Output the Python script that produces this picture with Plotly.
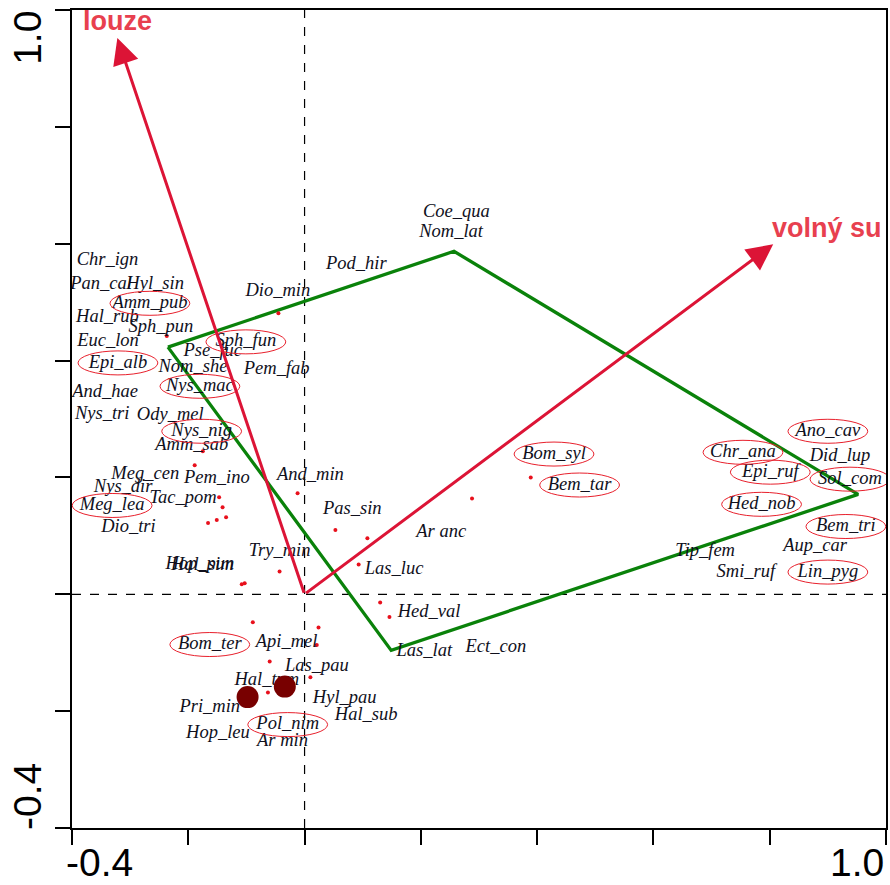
import plotly.graph_objects as go

# ---------------- data (ordination scores) ----------------
species = ["Chr_ign", "Pan_cal", "Hyl_sin", "Amm_pub", "Hal_rub", "Sph_pun", "Euc_lon",
           "Sph_fun", "Pse_fuc", "Epi_alb", "Nom_she", "Pem_fab", "Nys_mac", "And_hae",
           "Nys_tri", "Ody_mel", "Nys_nig", "Amm_sab", "Meg_cen", "Pem_ino", "And_min",
           "Nys_dir", "Tac_pom", "Meg_lea", "Dio_tri", "Try_min", "Hop_pun", "Hal_sim",
           "Bom_ter", "Api_mel", "Las_pau", "Hal_tum", "Pri_min", "Hyl_pau", "Hal_sub",
           "Pol_nim", "Hop_leu", "Ar min", "Pas_sin", "Ar anc", "Las_luc", "Hed_val",
           "Las_lat", "Ect_con", "Bom_syl", "Bem_tar", "Ano_cav", "Chr_ana", "Did_lup",
           "Epi_ruf", "Sol_com", "Hed_nob", "Bem_tri", "Tip_fem", "Aup_car", "Smi_ruf",
           "Lin_pyg", "Coe_qua", "Nom_lat", "Pod_hir", "Dio_min"]
species_x = [-0.339, -0.350, -0.257, -0.266, -0.339, -0.247, -0.338,
             -0.101, -0.158, -0.321, -0.192, -0.048, -0.180, -0.343,
             -0.348, -0.231, -0.177, -0.194, -0.274, -0.151, 0.010,
             -0.312, -0.209, -0.331, -0.303, -0.043, -0.180, -0.176,
             -0.163, -0.031, 0.021, -0.065, -0.163, 0.069, 0.106,
             -0.029, -0.149, -0.038, 0.082, 0.235, 0.154, 0.214,
             0.206, 0.329, 0.429, 0.473, 0.900, 0.754, 0.921,
             0.801, 0.938, 0.786, 0.931, 0.689, 0.878, 0.759,
             0.900, 0.261, 0.252, 0.089, -0.046]
species_y = [0.572, 0.531, 0.531, 0.498, 0.474, 0.457, 0.433,
             0.432, 0.416, 0.396, 0.389, 0.385, 0.356, 0.346,
             0.308, 0.307, 0.279, 0.255, 0.205, 0.199, 0.204,
             0.183, 0.164, 0.152, 0.115, 0.074, 0.051, 0.049,
             -0.086, -0.082, -0.123, -0.147, -0.193, -0.178, -0.207,
             -0.223, -0.238, -0.252, 0.146, 0.106, 0.043, -0.031,
             -0.098, -0.091, 0.240, 0.187, 0.279, 0.243, 0.236,
             0.209, 0.197, 0.154, 0.116, 0.074, 0.082, 0.038,
             0.038, 0.654, 0.620, 0.565, 0.519]
circled = ["Amm_pub", "Sph_fun", "Epi_alb", "Nys_mac", "Nys_nig", "Meg_lea", "Bom_ter",
           "Pol_nim", "Bom_syl", "Bem_tar", "Ano_cav", "Chr_ana", "Epi_ruf", "Sol_com",
           "Hed_nob", "Bem_tri", "Lin_pyg"]

# small sample points
point_x = [-0.189, -0.175, -0.147, -0.141, -0.135, -0.151, -0.166, -0.012, -0.043,
           -0.108, -0.103, -0.089, 0.024, 0.021, -0.060, 0.010, -0.063, 0.130, 0.146,
           0.053, 0.108, 0.288, 0.389, 0.093, -0.045, -0.237]
point_y = [0.221, 0.245, 0.166, 0.149, 0.132, 0.127, 0.122, 0.173, 0.039,
           0.017, 0.019, -0.048, -0.057, -0.087, -0.115, -0.142, -0.168, -0.014, -0.039,
           0.110, 0.096, 0.164, 0.200, 0.051, 0.481, 0.442]

# large (supplementary) points
big_x = [-0.098, -0.034]
big_y = [-0.176, -0.158]

# environmental arrows
env_names = ["louze", "volný su"]
env_x = [-0.322, 0.806]
env_y = [0.952, 0.599]
env_label_x = [-0.322, 0.898]
env_label_y = [0.981, 0.627]

# green envelope polygon
poly_x = [-0.235, 0.257, 0.952, 0.149]
poly_y = [0.423, 0.587, 0.171, -0.096]

# axis
axis_min, axis_max = -0.4, 1.0
tick_vals = [-0.4, -0.2, 0.0, 0.2, 0.4, 0.6, 0.8, 1.0]
tick_labels_shown = ["-0.4", "1.0"]

# ---------------- figure ----------------
W, H = 890, 885
ML, MR, MT, MB = 72, 2, 10, 57
px_x = (W - ML - MR) / (axis_max - axis_min)
px_y = (H - MT - MB) / (axis_max - axis_min)

RED = "#DC1436"
LABEL_RED = "#E8404F"
GREEN = "#0A820A"
serif = "Liberation Serif, Times New Roman, serif"
sans = "Liberation Sans, Arial, sans-serif"

fig = go.Figure()

# polygon
fig.add_trace(go.Scatter(x=poly_x + poly_x[:1], y=poly_y + poly_y[:1], mode="lines",
                         line=dict(color=GREEN, width=3.3), hoverinfo="skip", showlegend=False))

# small points
fig.add_trace(go.Scatter(x=point_x, y=point_y, mode="markers",
                         marker=dict(color="#E8101C", size=4, symbol="circle"),
                         hoverinfo="skip", showlegend=False))

# species labels
fig.add_trace(go.Scatter(x=species_x, y=species_y, mode="text", text=species,
                         textposition="middle center",
                         textfont=dict(family=serif, size=18.5, color="#10101c", style="italic"),
                         hoverinfo="skip", showlegend=False))

# big points
fig.add_trace(go.Scatter(x=big_x, y=big_y, mode="markers",
                         marker=dict(color="#780000", size=22, line=dict(width=0)),
                         hoverinfo="skip", showlegend=False))

shapes = []
# dashed zero lines
shapes.append(dict(type="line", xref="x", yref="paper", x0=0, x1=0, y0=0, y1=1,
                   line=dict(color="black", width=1.2, dash="dash"), layer="below"))
shapes.append(dict(type="line", xref="paper", yref="y", x0=0, x1=1, y0=0, y1=0,
                   line=dict(color="black", width=1.2, dash="dash"), layer="below"))

# ellipses round circled species
hw = 40 / px_x
hh = 12 / px_y
for name, sx, sy in zip(species, species_x, species_y):
    if name in circled:
        shapes.append(dict(type="circle", xref="x", yref="y",
                           x0=sx - hw, x1=sx + hw, y0=sy - hh, y1=sy + hh,
                           line=dict(color="#E8202C", width=1)))

annotations = []
# arrows
for ex, ey in zip(env_x, env_y):
    annotations.append(dict(x=ex, y=ey, ax=0, ay=0, xref="x", yref="y", axref="x", ayref="y",
                            text="", showarrow=True, arrowhead=2, arrowsize=1.75,
                            arrowwidth=3, arrowcolor=RED))
for name, lx, ly in zip(env_names, env_label_x, env_label_y):
    annotations.append(dict(x=lx, y=ly, xref="x", yref="y", text="<b>%s</b>" % name,
                            showarrow=False, font=dict(family=sans, size=27, color=LABEL_RED)))

# tick labels (only end values)
annotations.append(dict(x=0.034, y=-0.042, xref="paper", yref="paper", text=tick_labels_shown[0],
                        showarrow=False, xanchor="center", yanchor="middle",
                        font=dict(family=sans, size=39, color="black")))
annotations.append(dict(x=1.0, y=-0.042, xref="paper", yref="paper", text=tick_labels_shown[1],
                        showarrow=False, xanchor="right", yanchor="middle",
                        font=dict(family=sans, size=39, color="black")))
annotations.append(dict(x=-0.054, y=0.966, xref="paper", yref="paper", text=tick_labels_shown[1],
                        showarrow=False, textangle=-90, xanchor="center", yanchor="middle",
                        font=dict(family=sans, size=39, color="black")))
annotations.append(dict(x=-0.054, y=0.038, xref="paper", yref="paper", text=tick_labels_shown[0],
                        showarrow=False, textangle=-90, xanchor="center", yanchor="middle",
                        font=dict(family=sans, size=39, color="black")))

axis_common = dict(range=[axis_min, axis_max], tickvals=tick_vals, showticklabels=False,
                   ticks="outside", ticklen=15, tickwidth=1.5, tickcolor="black",
                   showline=True, mirror=True, linecolor="black", linewidth=1.5,
                   showgrid=False, zeroline=False, fixedrange=True)

fig.update_layout(width=W, height=H, autosize=False,
                  margin=dict(l=ML, r=MR, t=MT, b=MB, pad=0),
                  paper_bgcolor="white", plot_bgcolor="white",
                  xaxis=axis_common, yaxis=axis_common,
                  shapes=shapes, annotations=annotations, showlegend=False)

fig.write_html("out.html")
